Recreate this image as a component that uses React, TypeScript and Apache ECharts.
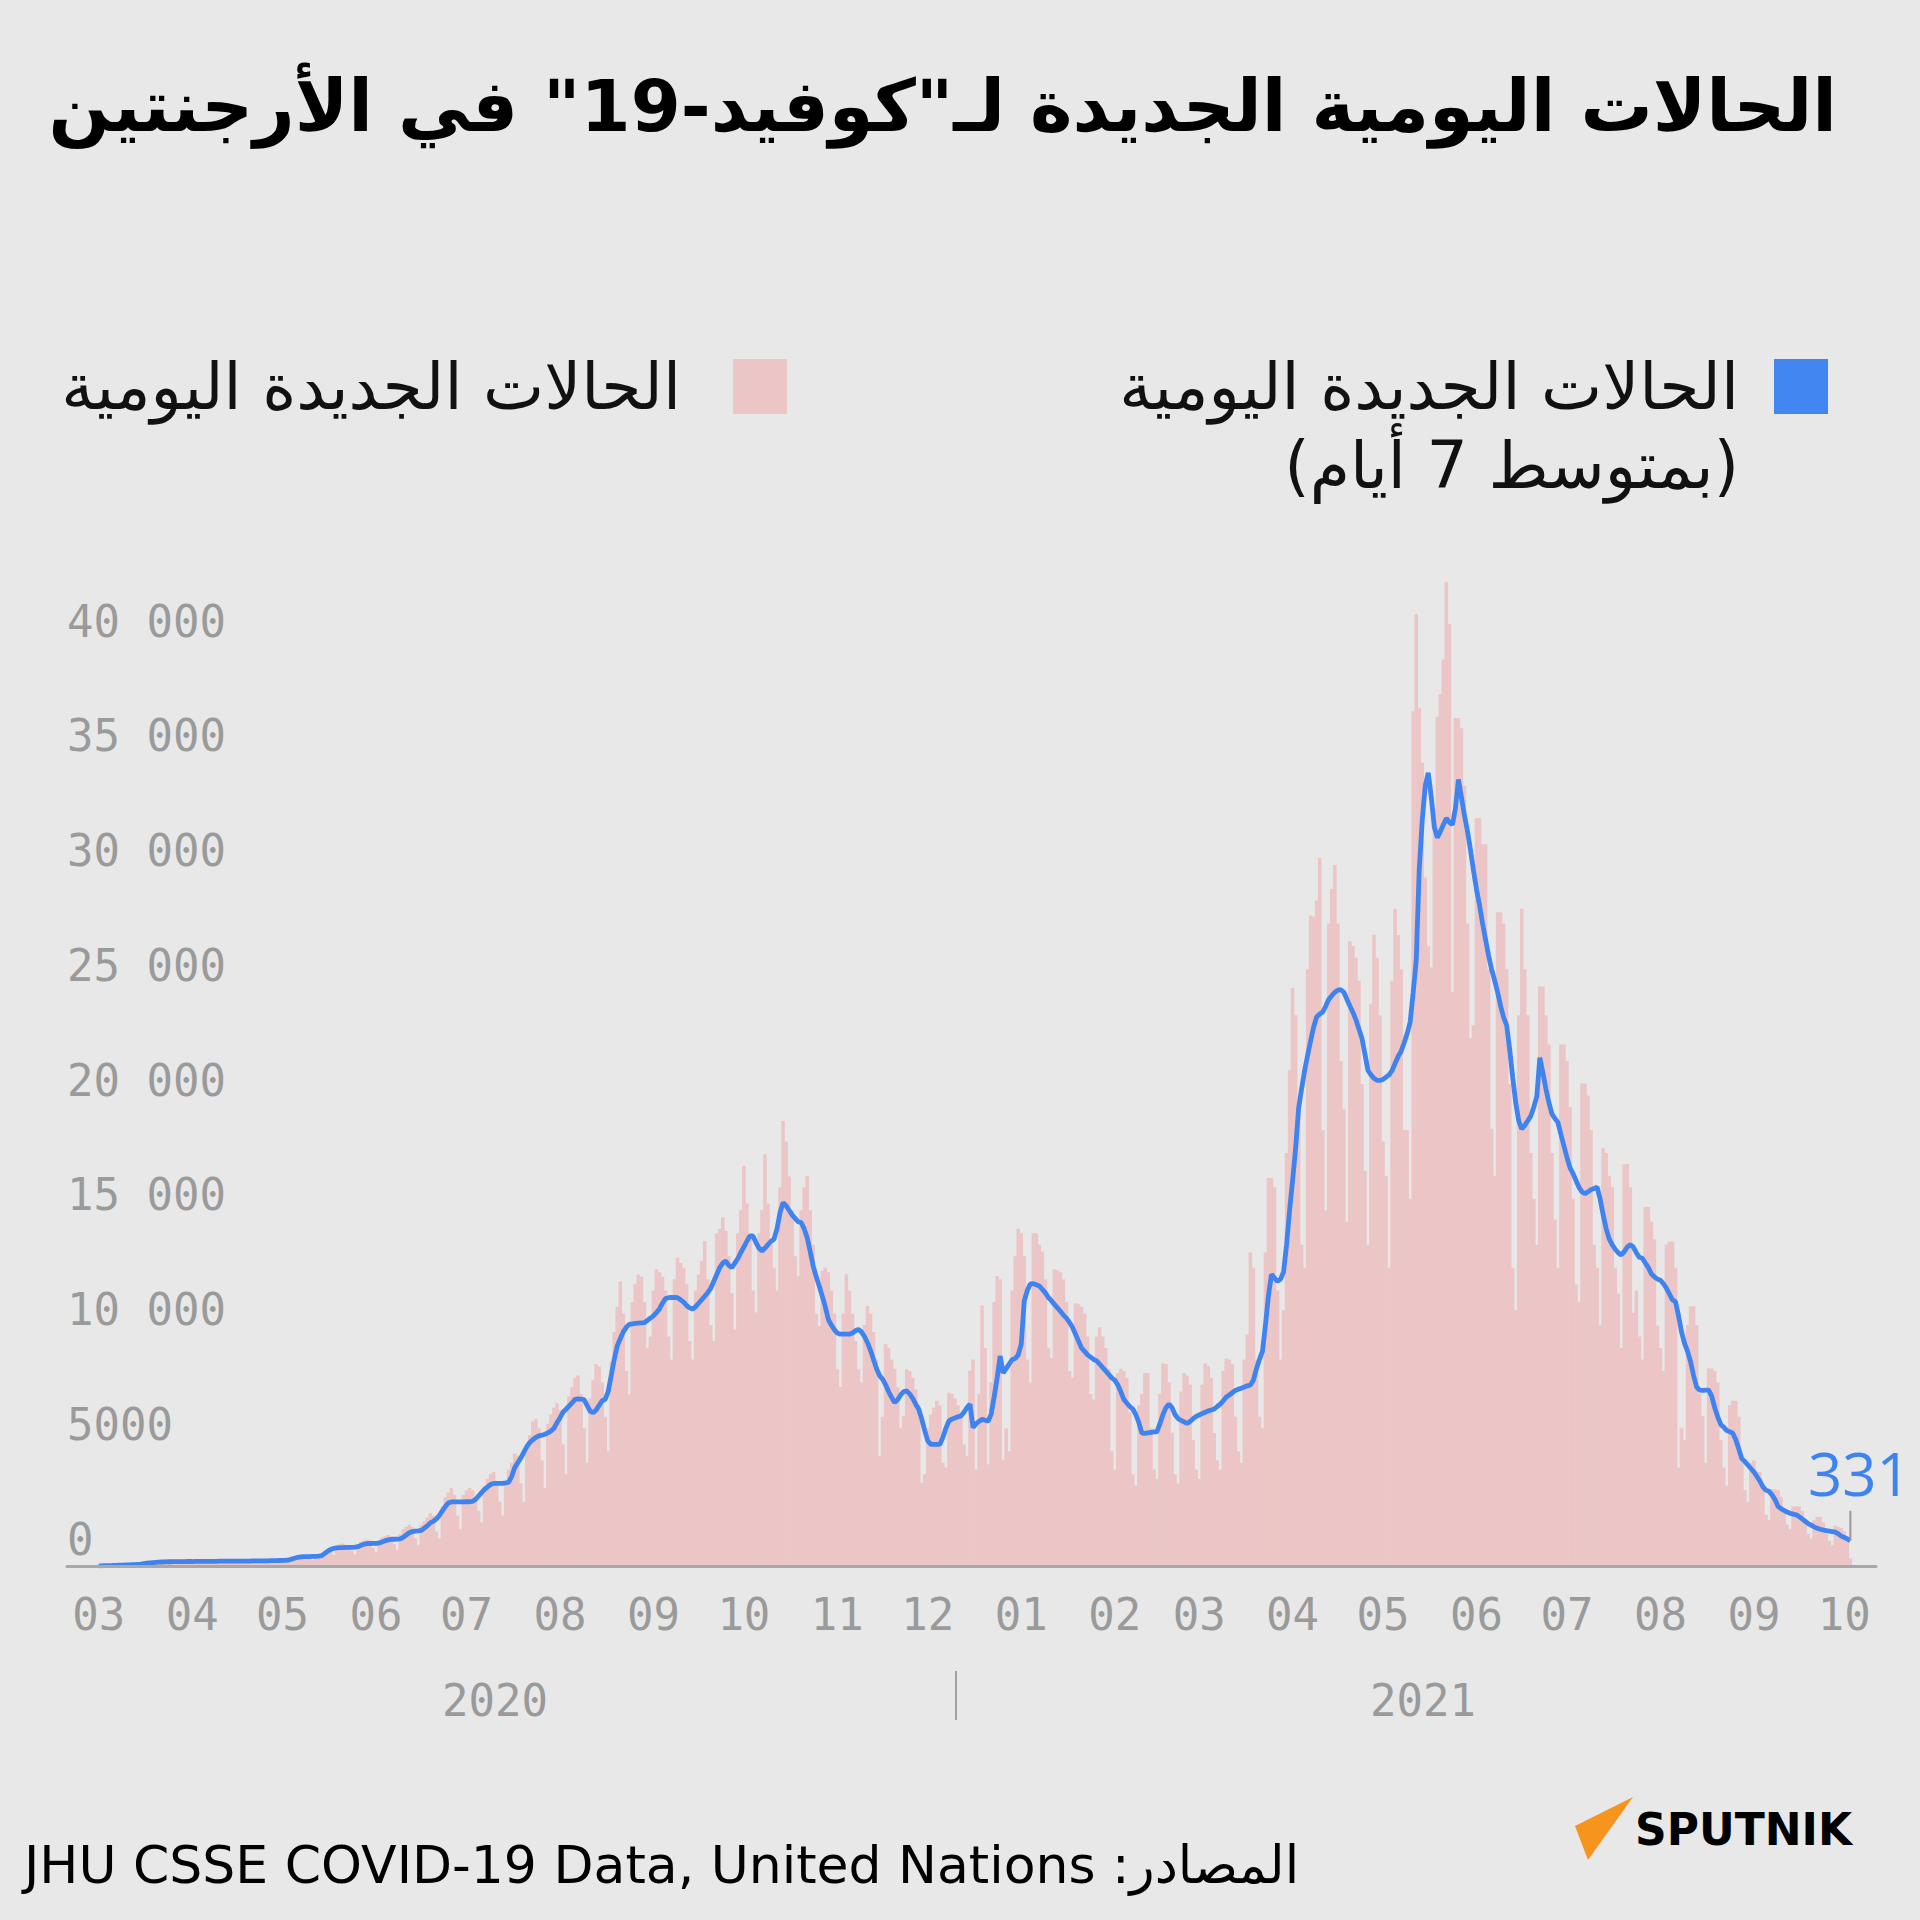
import React, { useEffect, useRef } from "react";
import * as echarts from "echarts";

// ---- Data (Argentina, daily new COVID-19 cases), first day = 2020-03-01 ----
const FIRST_DAY = "2020-03-01";
const PAD_BEFORE = 10;
const PAD_AFTER = 8;

// 7-day average, one week (Sun..Sat) per line
const avgP1 = [
  5, 8, 12, 15, 20, 25, 30,
  35, 40, 45, 50, 55, 60, 70,
  80, 100, 120, 140, 150, 160, 170,
  175, 180, 185, 185, 190, 190, 190,
  190, 195, 195, 195, 200, 200, 200,
  200, 200, 205, 205, 205, 210, 210,
  210, 210, 210, 215, 215, 215, 215,
  215, 215, 220, 220, 220, 225, 225,
  225, 230, 230, 235, 240, 245, 250,
  260, 300, 340, 380, 400, 410, 410,
  410, 415, 420, 430, 450, 550, 650,
  720, 770, 790, 800, 800, 810, 810,
  815, 820, 840, 900, 950, 975, 980,
];
const avgP2 = [
  985, 990, 1000, 1050, 1100, 1140, 1160,
  1165, 1170, 1180, 1250, 1350, 1450, 1500,
  1520, 1530, 1550, 1650, 1750, 1880, 1950,
  2050, 2200, 2400, 2600, 2750, 2790, 2790,
  2790, 2790, 2790, 2800, 2800, 2820, 2900,
  3050, 3200, 3340, 3450, 3550, 3600, 3600,
  3600, 3600, 3620, 3650, 3900, 4290, 4500,
  4700, 4950, 5200, 5380, 5500, 5600, 5670,
  5700, 5740, 5800, 5880, 6000, 6250, 6450,
  6700, 6830, 6970, 7100, 7260, 7280, 7270,
  7250, 7000, 6750, 6680, 6800, 7000, 7200,
  7260, 7600, 8300, 9000, 9590, 9900, 10200,
  10400, 10530, 10550, 10570, 10580, 10590, 10600,
];
const avgP3 = [
  10700, 10800, 10900, 11040, 11200, 11450, 11650,
  11690, 11700, 11700, 11690, 11600, 11500, 11350,
  11250, 11190, 11300, 11450, 11600, 11750, 11910,
  12100, 12400, 12700, 13000, 13200, 13290, 13100,
  13000, 13200, 13400, 13660, 13900, 14150, 14380,
  14380, 14100, 13850, 13730, 13850, 14000, 14150,
  14240, 14700, 15400, 15830, 15700, 15500, 15300,
  15150, 15000, 14960, 14700, 14300, 13700, 13070,
  12600, 12200, 11760, 11300, 10750, 10500, 10300,
  10150, 10100, 10100, 10100, 10100, 10150, 10250,
  10310, 10200, 10000, 9730, 9400, 9000, 8600,
  8300, 8140, 7900, 7600, 7350, 7120, 7250,
  7450, 7600, 7630, 7500, 7300, 7050, 6830,
];
const avgP4 = [
  6400, 5900, 5450, 5300, 5300, 5300, 5300,
  5600, 6000, 6320, 6400, 6450, 6500, 6540,
  6700, 6900, 7050, 6030, 6200, 6300, 6390,
  6350, 6310, 6600, 7360, 8200, 9150, 8410,
  8600, 8800, 9000, 9040, 9200, 9670, 11560,
  12000, 12290, 12300, 12250, 12200, 12050, 11900,
  11700, 11560, 11400, 11250, 11100, 10930, 10800,
  10610, 10400, 10100, 9800, 9500, 9350, 9200,
  9100, 9000, 8940, 8800, 8650, 8500, 8350,
  8200, 8100, 7900, 7600, 7260, 7100, 6950,
  6840, 6600, 6250, 5790, 5780, 5800, 5820,
  5840, 5850, 6200, 6600, 6900, 7050, 6900,
  6600, 6420, 6350, 6280, 6210, 6300, 6420,
];
const avgP5 = [
  6520, 6580, 6640, 6700, 6760, 6800, 6840,
  6950, 7050, 7200, 7360, 7450, 7550, 7650,
  7700, 7750, 7800, 7850, 7890, 8100, 8600,
  9000, 9350, 10500, 11800, 12710, 12550, 12400,
  12500, 12810, 14000, 15500, 16800, 18200, 19950,
  20800, 21600, 22260, 22900, 23500, 23930, 24050,
  24140, 24400, 24690, 24850, 25000, 25090, 25110,
  25000, 24700, 24400, 24130, 23800, 23400, 22990,
  22300, 21590, 21400, 21250, 21160, 21160, 21200,
  21300, 21400, 21590, 21900, 22200, 22430, 22800,
  23200, 23700, 25000, 26380, 30330, 32500, 34000,
  34560, 33500, 32200, 31740, 32000, 32300, 32580,
  32400, 32300, 33000, 34270, 33500, 32700, 32020,
];
const avgP6 = [
  31200, 30300, 29480, 28800, 28000, 27300, 26600,
  26000, 25530, 25000, 24400, 23900, 23560, 22500,
  21300, 20200, 19400, 19050, 19200, 19400, 19610,
  20000, 20460, 22150, 21500, 20800, 20200, 19700,
  19500, 19330, 18800, 18300, 17800, 17360, 17100,
  16800, 16500, 16300, 16230, 16300, 16400, 16450,
  16510, 16000, 15300, 14700, 14250, 14000, 13800,
  13650, 13550, 13700, 13900, 14000, 13900, 13650,
  13450, 13410, 13200, 13000, 12730, 12600, 12500,
  12450, 12300, 12100, 11850, 11600, 11510, 10900,
  10200, 9700, 9350, 8900, 8300, 7800, 7660,
  7650, 7660, 7660, 7400, 6900, 6500, 6170,
  6050, 5900, 5850, 5790, 5500, 5100, 4670,
];
const avgP7 = [
  4550, 4400, 4250, 4100, 3900, 3700, 3450,
  3300, 3260, 3100, 2900, 2600, 2500, 2420,
  2350, 2300, 2260, 2230, 2150, 2050, 1950,
  1850, 1780, 1700, 1650, 1600, 1570, 1540,
  1520, 1500, 1480, 1400, 1300, 1240, 1180,
  1100,
];

// daily new cases, one week (Sun..Sat) per line
const dailyP1 = [
  2, 5, 10, 12, 18, 25, 30,
  25, 30, 40, 55, 60, 70, 80,
  60, 90, 120, 150, 170, 180, 190,
  150, 140, 190, 200, 210, 200, 190,
  160, 120, 210, 230, 240, 220, 200,
  170, 130, 220, 230, 240, 230, 210,
  170, 130, 230, 240, 250, 230, 220,
  180, 140, 240, 250, 260, 240, 220,
  190, 150, 250, 270, 280, 270, 250,
  220, 180, 330, 420, 460, 470, 450,
  330, 260, 470, 500, 520, 650, 700,
  620, 480, 900, 950, 980, 900, 850,
  650, 520, 950, 1050, 1100, 1150, 1120,
];
const dailyP2 = [
  790, 600, 1150, 1250, 1300, 1350, 1300,
  950, 700, 1400, 1600, 1700, 1800, 1700,
  1200, 900, 1800, 1950, 2100, 2300, 2200,
  1500, 1200, 2600, 3000, 3200, 3400, 3100,
  2200, 1600, 3100, 3300, 3400, 3300, 3000,
  2400, 1900, 3500, 3800, 4000, 4100, 3700,
  2800, 2200, 3700, 4200, 4500, 4900, 4800,
  3600, 2800, 5000, 5700, 6300, 6400, 6000,
  4600, 3400, 6200, 6600, 6900, 7100, 6800,
  5300, 4000, 7400, 7800, 8200, 8300, 7500,
  6000, 4500, 7300, 8100, 8800, 8700, 8000,
  6500, 5000, 8900, 10200, 11300, 12400, 11000,
  8500, 7500, 11500, 12300, 12700, 12600, 11500,
];
const dailyP3 = [
  9500, 10000, 12000, 12930, 12800, 12600, 12000,
  10000, 9000, 12500, 13440, 13200, 13000, 12300,
  9800, 9000, 12000, 12700, 13300, 14160, 12500,
  10500, 9800, 14500, 14700, 15200, 14600, 13500,
  11900, 10300, 14500, 15500, 17430, 15800, 14200,
  12000, 11050, 14500, 15500, 17940, 15800, 14000,
  13000, 12000, 16500, 19390, 18500, 16970, 15500,
  13500, 12640, 15500, 16500, 17000, 15500, 14000,
  11000, 10460, 12850, 13000, 12800, 12000, 11000,
  8570, 7800, 11000, 12710, 12000, 11000, 9800,
  8570, 8000, 10500, 11330, 11000, 10200, 9000,
  4790, 6500, 9660, 9500, 9000, 8600, 7800,
  6000, 6540, 8570, 8500, 8200, 7700, 7000,
];
const dailyP4 = [
  3630, 4000, 6000, 6600, 6900, 7200, 7000,
  4500, 4300, 7550, 7500, 7300, 7000, 6500,
  5300, 4800, 8500, 9000, 4210, 7500, 11350,
  9500, 4430, 8000, 11500, 12640, 12500, 4630,
  6000, 5000, 12000, 13500, 14700, 14500, 13500,
  9000, 8000, 14500, 14500, 14000, 13700, 12500,
  9500, 9050, 12930, 12900, 12800, 12500, 11500,
  8500, 8200, 11450, 11400, 11300, 11000, 10000,
  7500, 7260, 10000, 10400, 10000, 9500, 8600,
  5000, 4200, 8410, 8600, 8500, 8200, 6700,
  4000, 3500, 7000, 7500, 8410, 8400, 6000,
  4200, 3800, 7500, 8830, 8800, 8000, 5800,
  4000, 3600, 7600, 8410, 8300, 7900, 5500,
];
const dailyP5 = [
  4200, 3800, 7900, 8830, 8700, 8200, 5800,
  4600, 4200, 8500, 9040, 9000, 8800, 6500,
  5000, 4500, 9000, 10090, 13660, 13000, 9000,
  6500, 6000, 13660, 16910, 16900, 16500, 12000,
  9000, 11140, 18000, 21600, 25200, 24000, 20000,
  14000, 13000, 26000, 28340, 28300, 29000, 30860,
  19000, 15500, 28000, 29500, 30550, 28000, 22000,
  19900, 15000, 27220, 27000, 26500, 25500, 21000,
  17210, 14000, 24500, 27510, 26500, 24000, 18500,
  17000, 13000, 25500, 28640, 27500, 26000, 19000,
  19000, 16000, 37240, 41470, 37380, 35000, 30000,
  27000, 26090, 33000, 37000, 38000, 39500, 42880,
  41050, 25000, 36950, 36950, 36500, 34000, 28000,
];
const dailyP6 = [
  23000, 23560, 32580, 32580, 31450, 31450, 26000,
  19050, 17000, 28490, 28490, 28000, 26000, 21000,
  13000, 11150, 24000, 28640, 26000, 24000, 18000,
  16000, 14000, 25250, 25250, 24000, 22720, 18000,
  15100, 13000, 22720, 22720, 22000, 20000, 16000,
  12270, 11500, 21020, 21020, 20500, 19000, 14000,
  13000, 10500, 18200, 18000, 17000, 16510, 13000,
  11860, 9500, 17500, 17520, 16500, 11040, 12000,
  10000, 9000, 15640, 15640, 15000, 14240, 10480,
  9500, 8500, 14000, 14140, 14140, 13000, 4290,
  6000, 5500, 10500, 11320, 11320, 10500, 7500,
  6540, 4500, 8610, 8610, 8500, 8000, 5500,
  4290, 3500, 7000, 7200, 7200, 6500, 4500,
];
const dailyP7 = [
  3300, 2800, 4500, 4600, 4100, 4100, 3400,
  2230, 2000, 3350, 3350, 3300, 3000, 2400,
  1800, 1600, 2600, 2600, 2600, 2400, 1900,
  1400, 1200, 2000, 2140, 2140, 1900, 1400,
  1100, 900, 1760, 1700, 1650, 1500, 1100,
  331,
];

const yearLabels = ["2020", "2021"];
const TITLE = 'الحالات اليومية الجديدة لـ"كوفيد-19" في الأرجنتين';
const LEGEND_AVG_1 = "الحالات الجديدة اليومية";
const LEGEND_AVG_2 = "(بمتوسط 7 أيام)";
const LEGEND_DAILY = "الحالات الجديدة اليومية";
const SOURCE = "JHU CSSE COVID-19 Data, United Nations :المصادر";

const dailyCases = [...dailyP1, ...dailyP2, ...dailyP3, ...dailyP4, ...dailyP5, ...dailyP6, ...dailyP7];
const avgCases = [...avgP1, ...avgP2, ...avgP3, ...avgP4, ...avgP5, ...avgP6, ...avgP7];

function buildDates(): string[] {
  const [y, m, d] = FIRST_DAY.split("-").map(Number);
  const start = Date.UTC(y, m - 1, d) - PAD_BEFORE * 86400000;
  const n = PAD_BEFORE + dailyCases.length + PAD_AFTER;
  const out: string[] = [];
  for (let i = 0; i < n; i++) {
    out.push(new Date(start + i * 86400000).toISOString().slice(0, 10));
  }
  return out;
}

const BLUE = "#3f83ef";
const PINK = "#ecc6c6";
const GREY = "#9a9a9a";
const TEXT_FONT = "DejaVu Sans";

export default function App() {
  const ref = useRef<HTMLDivElement>(null);
  useEffect(() => {
    if (!ref.current) return;
    const chart = echarts.init(ref.current, undefined, { renderer: "svg" });
    const dates = buildDates();
    const pad = (arr: number[]) => [
      ...new Array(PAD_BEFORE).fill(null),
      ...arr,
      ...new Array(PAD_AFTER).fill(null),
    ];
    const lastIdx = PAD_BEFORE + dailyCases.length - 1;
    const lastDate = dates[lastIdx];
    const lastDaily = dailyCases[dailyCases.length - 1];
    const lastAvg = avgCases[avgCases.length - 1];

    const yFmt = (v: number) => {
      if (v >= 45000) return "";
      if (v >= 10000) return `${Math.floor(v / 1000)} ${String(v % 1000).padStart(3, "0")}`;
      return String(v);
    };

    const option: any = {
      animation: false,
      backgroundColor: "#e8e8e8",
      grid: { left: 67, right: 44, top: 533.25, bottom: 354, containLabel: false },
      xAxis: {
        type: "category",
        data: dates,
        boundaryGap: true,
        z: 5,
        axisLine: { show: true, lineStyle: { color: "#a8a8a8", width: 3 } },
        axisTick: { show: false },
        splitLine: { show: false },
        axisLabel: {
          interval: (_i: number, v: string) => v.slice(8) === "01",
          formatter: (v: string) => v.slice(5, 7),
          color: GREY,
          fontFamily: "DejaVu Sans Mono",
          fontSize: 44,
          lineHeight: 44,
          margin: 26,
          hideOverlap: false,
        },
      },
      yAxis: {
        type: "value",
        min: 0,
        max: 45000,
        interval: 5000,
        axisLine: { show: false },
        axisTick: { show: false },
        splitLine: { show: false },
        axisLabel: {
          inside: true,
          margin: 0,
          align: "left",
          verticalAlign: "bottom",
          lineHeight: 44,
          padding: [0, 0, 5, 0],
          formatter: yFmt,
          color: GREY,
          fontFamily: "DejaVu Sans Mono",
          fontSize: 44,
        },
      },
      series: [
        {
          type: "bar",
          data: pad(dailyCases),
          barWidth: 3.6,
          barGap: "-100%",
          itemStyle: { color: PINK },
          z: 1,
          silent: true,
        },
        {
          type: "line",
          data: pad(avgCases),
          symbol: "none",
          lineStyle: { color: BLUE, width: 4.8 },
          z: 3,
          silent: true,
          markPoint: {
            symbol: "rect",
            symbolSize: [2, 30],
            symbolOffset: [0, -15],
            itemStyle: { color: "#999999" },
            label: {
              show: true,
              position: "top",
              distance: 8,
              offset: [9, 0],
              formatter: String(lastDaily),
              color: BLUE,
              fontSize: 60,
              fontFamily: "Open Sans",
            },
            data: [{ coord: [lastDate, lastAvg] }],
          },
        },
      ],
      graphic: [
        {
          type: "text",
          x: 1837,
          y: 106,
          style: {
            text: TITLE,
            fill: "#000",
            fontSize: 72,
            fontWeight: "bold",
            fontFamily: TEXT_FONT,
            align: "right",
            verticalAlign: "middle",
          },
        },
        { type: "rect", shape: { x: 1774, y: 359, width: 54, height: 55 }, style: { fill: "#4286f2" } },
        {
          type: "text",
          x: 1739,
          y: 386,
          style: {
            text: LEGEND_AVG_1,
            fill: "#111",
            fontSize: 65,
            fontFamily: TEXT_FONT,
            align: "right",
            verticalAlign: "middle",
          },
        },
        {
          type: "text",
          x: 1739,
          y: 465,
          style: {
            text: LEGEND_AVG_2,
            fill: "#111",
            fontSize: 65,
            fontFamily: TEXT_FONT,
            align: "right",
            verticalAlign: "middle",
          },
        },
        { type: "rect", shape: { x: 733, y: 359, width: 54, height: 55 }, style: { fill: PINK } },
        {
          type: "text",
          x: 681,
          y: 386,
          style: {
            text: LEGEND_DAILY,
            fill: "#111",
            fontSize: 65,
            fontFamily: TEXT_FONT,
            align: "right",
            verticalAlign: "middle",
          },
        },
        {
          type: "text",
          x: 495,
          y: 1700,
          style: {
            text: yearLabels[0],
            fill: GREY,
            fontSize: 44,
            fontFamily: "DejaVu Sans Mono",
            align: "center",
            verticalAlign: "middle",
          },
        },
        {
          type: "text",
          x: 1423,
          y: 1700,
          style: {
            text: yearLabels[1],
            fill: GREY,
            fontSize: 44,
            fontFamily: "DejaVu Sans Mono",
            align: "center",
            verticalAlign: "middle",
          },
        },
        {
          type: "line",
          shape: { x1: 956, y1: 1671, x2: 956, y2: 1720 },
          style: { stroke: "#a0a0a0", lineWidth: 2 },
        },
        {
          type: "text",
          x: 24,
          y: 1865,
          style: {
            text: SOURCE,
            fill: "#000",
            fontSize: 52,
            fontFamily: TEXT_FONT,
            align: "left",
            verticalAlign: "middle",
          },
        },
        {
          type: "polygon",
          shape: { points: [[1633, 1797], [1575, 1826], [1588, 1860]] },
          style: { fill: "#f7941d" },
        },
        {
          type: "text",
          x: 1635,
          y: 1829,
          style: {
            text: "SPUTNIK",
            fill: "#000",
            fontSize: 44,
            fontWeight: "bold",
            fontFamily: "DejaVu Sans",
            align: "left",
            verticalAlign: "middle",
          },
        },
      ],
    };
    chart.setOption(option);
    return () => chart.dispose();
  }, []);

  return (
    <div
      ref={ref}
      style={{ position: "fixed", left: 0, top: 0, width: 1920, height: 1920 }}
    />
  );
}
